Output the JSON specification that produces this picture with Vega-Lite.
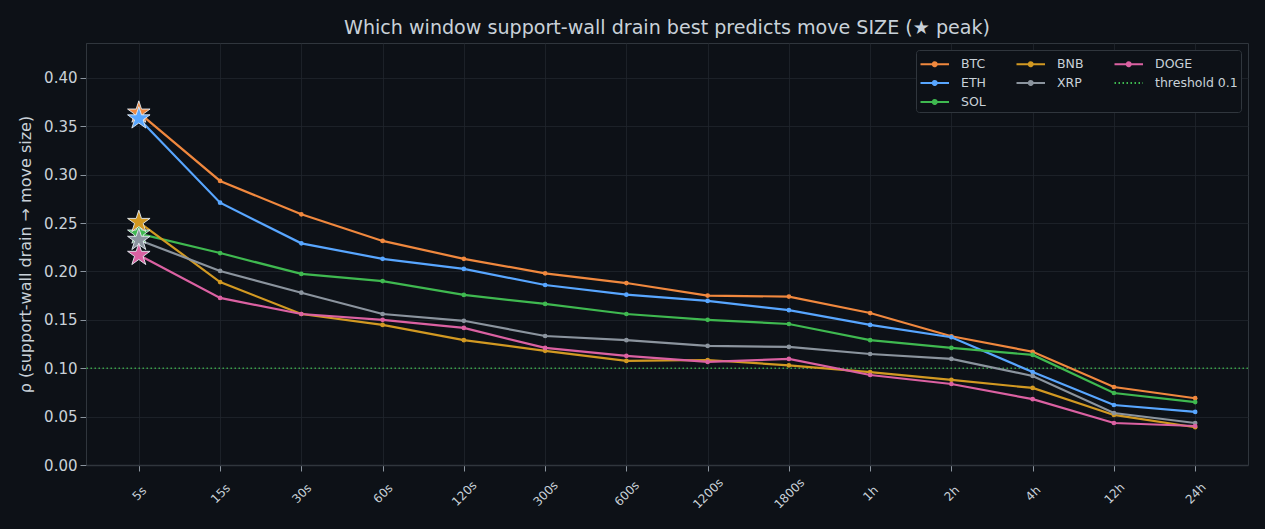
{
  "$schema": "https://vega.github.io/schema/vega-lite/v6.json",
  "width": 1162,
  "height": 422,
  "autosize": {"type": "none"},
  "padding": {"left": 86, "top": 43, "right": 17, "bottom": 64},
  "background": "#0d1117",
  "title": {"text": "Which window support-wall drain best predicts move SIZE (★ peak)", "anchor": "middle", "fontSize": 19.1, "fontWeight": "normal", "color": "#c9d1d9", "font": "DejaVu Sans", "offset": 5},
  "config": {
    "font": "DejaVu Sans",
    "view": {"stroke": "#30363d", "strokeWidth": 1},
    "axis": {"gridColor": "#21262d", "gridWidth": 0.8, "domainColor": "#30363d", "tickColor": "#8b949e", "labelColor": "#c9d1d9", "titleColor": "#c9d1d9", "titleFontWeight": "normal"}
  },
  "data": {"values": [
    {"coin":"BTC","window":"5s","rho":0.364},{"coin":"BTC","window":"15s","rho":0.2935},{"coin":"BTC","window":"30s","rho":0.259},{"coin":"BTC","window":"60s","rho":0.2315},{"coin":"BTC","window":"120s","rho":0.213},{"coin":"BTC","window":"300s","rho":0.198},{"coin":"BTC","window":"600s","rho":0.188},{"coin":"BTC","window":"1200s","rho":0.175},{"coin":"BTC","window":"1800s","rho":0.174},{"coin":"BTC","window":"1h","rho":0.157},{"coin":"BTC","window":"2h","rho":0.133},{"coin":"BTC","window":"4h","rho":0.117},{"coin":"BTC","window":"12h","rho":0.0806},{"coin":"BTC","window":"24h","rho":0.069},
    {"coin":"ETH","window":"5s","rho":0.358},{"coin":"ETH","window":"15s","rho":0.271},{"coin":"ETH","window":"30s","rho":0.229},{"coin":"ETH","window":"60s","rho":0.213},{"coin":"ETH","window":"120s","rho":0.2026},{"coin":"ETH","window":"300s","rho":0.186},{"coin":"ETH","window":"600s","rho":0.176},{"coin":"ETH","window":"1200s","rho":0.1695},{"coin":"ETH","window":"1800s","rho":0.16},{"coin":"ETH","window":"1h","rho":0.1447},{"coin":"ETH","window":"2h","rho":0.132},{"coin":"ETH","window":"4h","rho":0.096},{"coin":"ETH","window":"12h","rho":0.062},{"coin":"ETH","window":"24h","rho":0.0548},
    {"coin":"SOL","window":"5s","rho":0.239},{"coin":"SOL","window":"15s","rho":0.219},{"coin":"SOL","window":"30s","rho":0.1974},{"coin":"SOL","window":"60s","rho":0.19},{"coin":"SOL","window":"120s","rho":0.1757},{"coin":"SOL","window":"300s","rho":0.1664},{"coin":"SOL","window":"600s","rho":0.156},{"coin":"SOL","window":"1200s","rho":0.15},{"coin":"SOL","window":"1800s","rho":0.1457},{"coin":"SOL","window":"1h","rho":0.129},{"coin":"SOL","window":"2h","rho":0.121},{"coin":"SOL","window":"4h","rho":0.1137},{"coin":"SOL","window":"12h","rho":0.0744},{"coin":"SOL","window":"24h","rho":0.065},
    {"coin":"BNB","window":"5s","rho":0.251},{"coin":"BNB","window":"15s","rho":0.189},{"coin":"BNB","window":"30s","rho":0.156},{"coin":"BNB","window":"60s","rho":0.1447},{"coin":"BNB","window":"120s","rho":0.129},{"coin":"BNB","window":"300s","rho":0.118},{"coin":"BNB","window":"600s","rho":0.1075},{"coin":"BNB","window":"1200s","rho":0.1085},{"coin":"BNB","window":"1800s","rho":0.103},{"coin":"BNB","window":"1h","rho":0.096},{"coin":"BNB","window":"2h","rho":0.088},{"coin":"BNB","window":"4h","rho":0.0796},{"coin":"BNB","window":"12h","rho":0.0517},{"coin":"BNB","window":"24h","rho":0.039},
    {"coin":"XRP","window":"5s","rho":0.2325},{"coin":"XRP","window":"15s","rho":0.2005},{"coin":"XRP","window":"30s","rho":0.178},{"coin":"XRP","window":"60s","rho":0.156},{"coin":"XRP","window":"120s","rho":0.149},{"coin":"XRP","window":"300s","rho":0.1333},{"coin":"XRP","window":"600s","rho":0.129},{"coin":"XRP","window":"1200s","rho":0.123},{"coin":"XRP","window":"1800s","rho":0.122},{"coin":"XRP","window":"1h","rho":0.1147},{"coin":"XRP","window":"2h","rho":0.1096},{"coin":"XRP","window":"4h","rho":0.092},{"coin":"XRP","window":"12h","rho":0.0537},{"coin":"XRP","window":"24h","rho":0.0434},
    {"coin":"DOGE","window":"5s","rho":0.217},{"coin":"DOGE","window":"15s","rho":0.1726},{"coin":"DOGE","window":"30s","rho":0.156},{"coin":"DOGE","window":"60s","rho":0.15},{"coin":"DOGE","window":"120s","rho":0.1416},{"coin":"DOGE","window":"300s","rho":0.121},{"coin":"DOGE","window":"600s","rho":0.1127},{"coin":"DOGE","window":"1200s","rho":0.1065},{"coin":"DOGE","window":"1800s","rho":0.1096},{"coin":"DOGE","window":"1h","rho":0.093},{"coin":"DOGE","window":"2h","rho":0.0837},{"coin":"DOGE","window":"4h","rho":0.068},{"coin":"DOGE","window":"12h","rho":0.0434},{"coin":"DOGE","window":"24h","rho":0.0403},
    {"coin":"threshold 0.1","window":null,"rho":0.1}
  ]},
  "layer": [
    {"transform": [{"filter": "datum.coin === 'threshold 0.1'"}],
     "mark": {"type": "rule", "strokeDash": [1.5, 2.5], "strokeWidth": 1.4, "opacity": 0.85},
     "encoding": {"y": {"field": "rho", "type": "quantitative"},
       "color": {"field": "coin", "type": "nominal",
         "scale": {"domain": ["BTC","ETH","threshold 0.1","BNB","XRP","SOL","DOGE"], "range": ["#f0883e","#58a6ff","#3fb950","#d29922","#8b949e","#3fb950","#db61a2"]}}}},
    {"transform": [{"filter": "datum.coin !== 'threshold 0.1'"}],
     "mark": {"type": "line", "strokeWidth": 2.2, "point": {"filled": true, "size": 22}},
     "encoding": {
      "x": {"field": "window", "type": "ordinal", "sort": ["5s","15s","30s","60s","120s","300s","600s","1200s","1800s","1h","2h","4h","12h","24h"],
        "scale": {"type": "point", "padding": 0.65},
        "axis": {"title": null, "labelAngle": -45, "labelAlign": "center", "labelBaseline": "middle", "labelPadding": 22, "tickSize": 6, "labelFontSize": 12, "grid": true, "domainColor": "#30363d", "domainWidth": 1.5}},
      "y": {"field": "rho", "type": "quantitative",
        "scale": {"domain": [0, 0.436], "nice": false, "zero": false},
        "axis": {"title": "ρ (support-wall drain → move size)", "titleFontSize": 16, "titlePadding": 10, "values": [0,0.05,0.1,0.15,0.2,0.25,0.3,0.35,0.4], "format": ".2f", "labelFontSize": 15, "tickSize": 6, "labelPadding": 3, "grid": true}},
      "color": {"field": "coin", "type": "nominal",
        "scale": {"domain": ["BTC","ETH","threshold 0.1","BNB","XRP","SOL","DOGE"], "range": ["#f0883e","#58a6ff","#3fb950","#d29922","#8b949e","#3fb950","#db61a2"]},
        "legend": {"title": null, "orient": "top-right", "direction": "vertical", "columns": 3, "offset": 7,
          "symbolType": "M-1,0H2", "symbolSize": 361, "symbolStrokeWidth": 2.2,
          "labelFontSize": 12.5, "labelColor": "#c9d1d9", "labelOffset": 20, "columnPadding": 26, "rowPadding": 1,
          "fillColor": "#0d1117", "strokeColor": "#30363d", "padding": 3, "cornerRadius": 3,
          "encode": {"symbols": {"update": {
            "shape": [{"test": "datum.value === 'threshold 0.1'", "value": "M-1,0H2"}, {"value": "M-1,0H2M0.3,0A0.2,0.2 0 1,1 0.7,0A0.2,0.2 0 1,1 0.3,0Z"}],
            "fill": [{"test": "datum.value === 'threshold 0.1'", "value": "transparent"}, {"scale": "color", "field": "value"}],
            "strokeDash": [{"test": "datum.value === 'threshold 0.1'", "value": [1.5, 2.5]}, {"value": [1, 0]}]
          }}}}}
     }},
    {"transform": [{"filter": "datum.coin !== 'threshold 0.1'"}, {"joinaggregate": [{"op": "max", "field": "rho", "as": "peak"}], "groupby": ["coin"]}, {"filter": "datum.rho === datum.peak"}],
     "mark": {"type": "point", "shape": "M0,-1L0.2245,-0.309L0.951,-0.309L0.363,0.118L0.588,0.809L0,0.382L-0.588,0.809L-0.363,0.118L-0.951,-0.309L-0.2245,-0.309Z", "filled": true, "size": 560, "stroke": "#e6edf3", "strokeWidth": 0.9, "opacity": 1},
     "encoding": {
      "x": {"field": "window", "type": "ordinal", "sort": ["5s","15s","30s","60s","120s","300s","600s","1200s","1800s","1h","2h","4h","12h","24h"]},
      "y": {"field": "rho", "type": "quantitative"},
      "fill": {"field": "coin", "type": "nominal", "scale": {"domain": ["BTC","ETH","threshold 0.1","BNB","XRP","SOL","DOGE"], "range": ["#f0883e","#58a6ff","#3fb950","#d29922","#8b949e","#3fb950","#db61a2"]}, "legend": null}}}
  ]
}
